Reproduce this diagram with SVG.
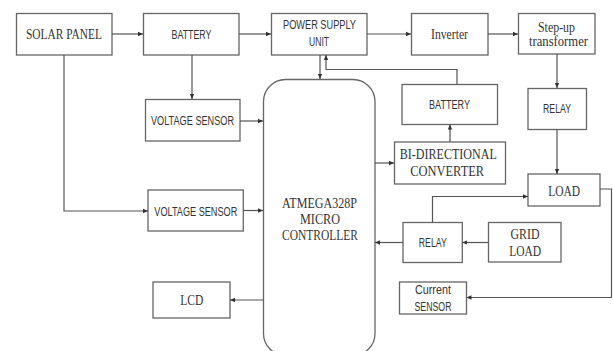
<svg xmlns="http://www.w3.org/2000/svg" width="613" height="351" viewBox="0 0 613 351">
<defs>
<marker id="ah" markerWidth="6" markerHeight="6" refX="5" refY="3" orient="auto" markerUnits="userSpaceOnUse">
<path d="M0,0.8 L5,3 L0,5.2 Z" fill="#333"/>
</marker>
<style>
.box{fill:#fff;stroke:#666;stroke-width:1.3}
.ser{font-family:"Liberation Serif","Times New Roman",serif;font-size:14px;fill:#333;text-anchor:middle}
.san{font-family:"Liberation Sans",Arial,sans-serif;font-size:12px;fill:#333;text-anchor:middle}
.cn{fill:none;stroke:#555;stroke-width:1.2;marker-end:url(#ah)}
</style>
</defs>
<rect width="613" height="351" fill="#fff"/>
<g id="solar-panel"><rect class="box" x="16.5" y="13.5" width="95.5" height="41.5"/><text class="ser" x="64" y="39.3" textLength="76" lengthAdjust="spacingAndGlyphs">SOLAR PANEL</text></g>
<g id="battery-1"><rect class="box" x="143.5" y="13.5" width="95.5" height="41.5"/><text class="san" x="191.5" y="38.5" textLength="40" lengthAdjust="spacingAndGlyphs">BATTERY</text></g>
<g id="power-supply"><rect class="box" x="271.5" y="13.5" width="95.5" height="41.5"/><text class="san" x="319.5" y="29.3" textLength="73" lengthAdjust="spacingAndGlyphs">POWER SUPPLY</text><text class="san" x="319" y="46" textLength="20" lengthAdjust="spacingAndGlyphs">UNIT</text></g>
<g id="inverter"><rect class="box" x="411.5" y="13.5" width="76.5" height="41.5"/><text class="ser" x="449.5" y="38.5" textLength="37" lengthAdjust="spacingAndGlyphs">Inverter</text></g>
<g id="step-up"><rect class="box" x="518.5" y="13.5" width="76.5" height="40.5"/><text class="ser" x="556.5" y="31.7" textLength="37" lengthAdjust="spacingAndGlyphs">Step-up</text><text class="ser" x="558.5" y="46.2" textLength="59" lengthAdjust="spacingAndGlyphs">transformer</text></g>
<g id="voltage-sensor-1"><rect class="box" x="145.5" y="99.5" width="94.5" height="41.5"/><text class="san" x="192.5" y="125" textLength="83" lengthAdjust="spacingAndGlyphs">VOLTAGE SENSOR</text></g>
<g id="mcu"><rect class="box" x="263.5" y="79.5" width="111.5" height="276" rx="22" ry="22"/><text class="ser" x="319.5" y="207.7" textLength="75" lengthAdjust="spacingAndGlyphs">ATMEGA328P</text><text class="ser" x="320" y="223.5" textLength="40" lengthAdjust="spacingAndGlyphs">MICRO</text><text class="ser" x="320" y="239.5" textLength="76" lengthAdjust="spacingAndGlyphs">CONTROLLER</text></g>
<g id="battery-2"><rect class="box" x="402" y="84.5" width="95.5" height="40"/><text class="san" x="449.5" y="109.3" textLength="41" lengthAdjust="spacingAndGlyphs">BATTERY</text></g>
<g id="relay-1"><rect class="box" x="528" y="88.5" width="58.5" height="41"/><text class="san" x="557" y="113.3" textLength="28" lengthAdjust="spacingAndGlyphs">RELAY</text></g>
<g id="bi-converter"><rect class="box" x="394.5" y="142" width="111" height="42"/><text class="ser" x="448.3" y="159.3" textLength="97" lengthAdjust="spacingAndGlyphs">BI-DIRECTIONAL</text><text class="ser" x="447.2" y="176" textLength="74" lengthAdjust="spacingAndGlyphs">CONVERTER</text></g>
<g id="load"><rect class="box" x="528" y="174" width="72" height="32"/><text class="ser" x="564.2" y="195.5" textLength="32" lengthAdjust="spacingAndGlyphs">LOAD</text></g>
<g id="voltage-sensor-2"><rect class="box" x="148" y="190" width="95.3" height="41"/><text class="san" x="195.8" y="215.5" textLength="83" lengthAdjust="spacingAndGlyphs">VOLTAGE SENSOR</text></g>
<g id="relay-2"><rect class="box" x="403" y="222.5" width="59.3" height="40"/><text class="san" x="432.8" y="247.3" textLength="28" lengthAdjust="spacingAndGlyphs">RELAY</text></g>
<g id="grid-load"><rect class="box" x="488.5" y="222.5" width="72.5" height="39.5"/><text class="ser" x="525" y="239.3" textLength="29" lengthAdjust="spacingAndGlyphs">GRID</text><text class="ser" x="525.2" y="256" textLength="32" lengthAdjust="spacingAndGlyphs">LOAD</text></g>
<g id="lcd"><rect class="box" x="153" y="282" width="77" height="36"/><text class="ser" x="191.7" y="305" textLength="23" lengthAdjust="spacingAndGlyphs">LCD</text></g>
<g id="current-sensor"><rect class="box" x="399.5" y="282" width="67" height="32"/><text class="san" x="432.9" y="294" textLength="36" lengthAdjust="spacingAndGlyphs">Current</text><text class="san" x="433" y="310.7" textLength="37" lengthAdjust="spacingAndGlyphs">SENSOR</text></g>
<g id="connectors">
<path class="cn" d="M112,34 H143"/>
<path class="cn" d="M239,34 H271"/>
<path class="cn" d="M367,34 H411"/>
<path class="cn" d="M488,34 H518"/>
<path class="cn" d="M192,55 V99"/>
<path class="cn" d="M240,121 H263"/>
<path class="cn" d="M320,55 V79"/>
<path class="cn" d="M457,84.5 V69.5 H326 V55"/>
<path class="cn" d="M375,163 H394"/>
<path class="cn" d="M450,142 V124.5"/>
<path class="cn" d="M557,54 V88"/>
<path class="cn" d="M557,129.5 V174"/>
<path class="cn" d="M64,55 V211 H148"/>
<path class="cn" d="M243.3,210.5 H263"/>
<path class="cn" d="M263,300 H230"/>
<path class="cn" d="M403,242.5 H375"/>
<path class="cn" d="M488.5,242.5 H462.3"/>
<path class="cn" d="M432.5,222.5 V196.5 H528"/>
<path class="cn" d="M600,189 H611.5 V297.5 H466.5"/>
</g>
</svg>
